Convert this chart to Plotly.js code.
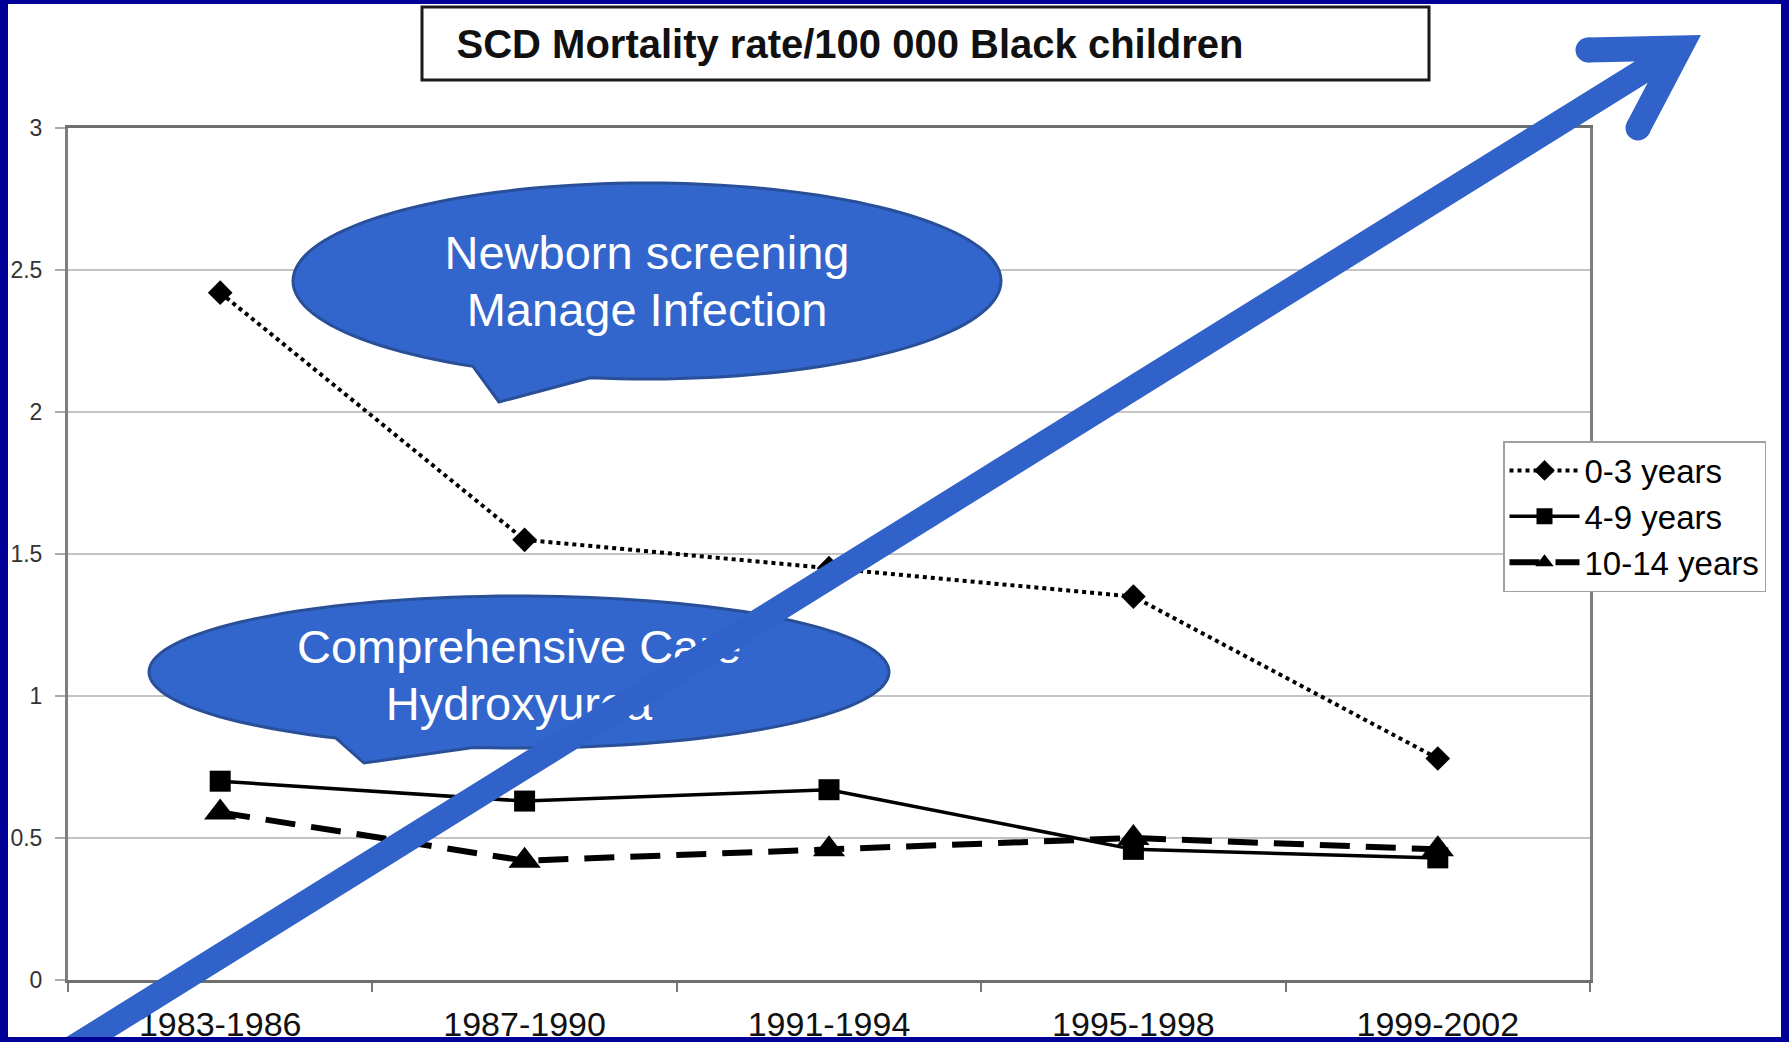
<!DOCTYPE html>
<html>
<head>
<meta charset="utf-8">
<script src="https://cdn.plot.ly/plotly-3.0.1.min.js"></script>
<style>
  html, body { margin: 0; padding: 0; background: #ffffff; overflow: hidden; }
  #chart { width: 1789px; height: 1042px; }
</style>
</head>
<body>
<div id="chart"></div>
<script>
// ---- Data ----
const periods    = ['1983-1986', '1987-1990', '1991-1994', '1995-1998', '1999-2002'];
const age0to3    = [2.42, 1.55, 1.45, 1.35, 0.78];
const age4to9    = [0.70, 0.63, 0.67, 0.46, 0.43];
const age10to14  = [0.59, 0.42, 0.46, 0.50, 0.46];
const seriesNames = ['0-3 years', '4-9 years', '10-14 years'];
const yTickVals  = [0, 0.5, 1, 1.5, 2, 2.5, 3];
const yTickText  = ['0', '0.5', '1', '1.5', '2', '2.5', '3'];
const chartTitle = 'SCD Mortality rate/100 000 Black children';
const bubble1Lines = ['Newborn screening', 'Manage Infection'];
const bubble2Lines = ['Comprehensive Care', 'Hydroxyurea'];

// ---- Layout geometry (pixels) ----
const W = 1789, H = 1042;
const L = 68, R = 1590, T = 128, B = 980;
const px = x => (x - L) / (R - L);
const py = y => (B - y) / (B - T);

const FONT = 'Liberation Sans, Arial, Helvetica, sans-serif';
const NAVY = '#000099';
const BUBBLE_FILL = '#3366cc';
const BUBBLE_LINE = '#284f98';
const ARROW = '#3162c9';

function pathFrom(points, close) {
  return points.map((p, i) => (i ? 'L' : 'M') + px(p[0]).toFixed(5) + ',' + py(p[1]).toFixed(5)).join(' ') + (close ? ' Z' : '');
}

// callout ellipse with a tail on its lower edge
function calloutPath(cx, cy, rx, ry, baseLx, tip, baseRx) {
  const tL = Math.acos((baseLx - cx) / rx);
  const tR = Math.acos((baseRx - cx) / rx) + 2 * Math.PI;
  const pts = [];
  const n = 140;
  for (let i = 0; i <= n; i++) {
    const t = tL + (tR - tL) * i / n;
    pts.push([cx + rx * Math.cos(t), cy + ry * Math.sin(t)]);
  }
  pts.push(tip);
  return pathFrom(pts, true);
}

function textRect(cx, cy, text, size) {
  return {
    type: 'rect', xref: 'paper', yref: 'paper', layer: 'above',
    x0: px(cx - 300), x1: px(cx + 300), y0: py(cy + 30), y1: py(cy - 30),
    line: { width: 0 }, fillcolor: 'rgba(0,0,0,0)',
    label: { text: text, textposition: 'middle center', font: { family: FONT, size: size, color: '#ffffff' } }
  };
}

function navyRect(x0, y0, x1, y1) {
  return {
    type: 'rect', xref: 'paper', yref: 'paper', layer: 'above',
    x0: px(x0), x1: px(x1), y0: py(y1), y1: py(y0),
    line: { width: 0 }, fillcolor: NAVY
  };
}

// arrow geometry
const arrowTail = [58, 1057];
const arrowJoin = [1680, 48];
const barbUpper = [1588, 50];
const barbLower = [1638, 128];
const ARROW_W = 25;

function capCircle(c) {
  const r = ARROW_W / 2;
  return {
    type: 'circle', xref: 'paper', yref: 'paper', layer: 'above',
    x0: px(c[0] - r), x1: px(c[0] + r), y0: py(c[1] + r), y1: py(c[1] - r),
    line: { width: 0 }, fillcolor: ARROW
  };
}

const shapes = [
  // title box
  { type: 'rect', xref: 'paper', yref: 'paper', layer: 'above',
    x0: px(422), x1: px(1429), y0: py(80), y1: py(7),
    line: { color: '#1a1a1a', width: 3 }, fillcolor: '#ffffff' },
  // bubble 1
  { type: 'path', xref: 'paper', yref: 'paper', layer: 'above',
    path: calloutPath(647, 281, 354, 98, 473, [499, 402], 590),
    line: { color: BUBBLE_LINE, width: 3 }, fillcolor: BUBBLE_FILL },
  textRect(647, 248, bubble1Lines[0], 47),
  textRect(647, 305, bubble1Lines[1], 47),
  // bubble 2
  { type: 'path', xref: 'paper', yref: 'paper', layer: 'above',
    path: calloutPath(519, 672, 370, 76, 336, [364, 763], 473),
    line: { color: BUBBLE_LINE, width: 3 }, fillcolor: BUBBLE_FILL },
  textRect(519, 642, bubble2Lines[0], 47),
  textRect(519, 699, bubble2Lines[1], 47),
  // big arrow
  { type: 'path', xref: 'paper', yref: 'paper', layer: 'above',
    path: pathFrom([arrowTail, arrowJoin]) + ' ' + pathFrom([barbUpper, arrowJoin, barbLower]),
    line: { color: ARROW, width: ARROW_W }, fillcolor: 'rgba(0,0,0,0)' },
  capCircle(barbUpper),
  capCircle(barbLower),
  // navy frame
  navyRect(0, 0, 8, H),
  navyRect(1781, 0, W, H),
  navyRect(0, 0, W, 4),
  navyRect(0, 1037, W, H)
];

const traces = [
  { x: periods, y: age0to3, name: seriesNames[0], type: 'scatter', mode: 'lines+markers',
    line: { color: '#000000', width: 4, dash: 'dot' },
    marker: { symbol: 'diamond', size: 19, color: '#000000' } },
  { x: periods, y: age4to9, name: seriesNames[1], type: 'scatter', mode: 'lines+markers',
    line: { color: '#000000', width: 3.5, dash: 'solid' },
    marker: { symbol: 'square', size: 21, color: '#000000' } },
  { x: periods, y: age10to14, name: seriesNames[2], type: 'scatter', mode: 'lines+markers',
    line: { color: '#000000', width: 6, dash: '30px,16px' },
    marker: { symbol: 'triangle-up', size: 28, color: '#000000' } }
];

const layout = {
  width: W, height: H,
  margin: { l: L, r: W - R, t: T, b: H - B, autoexpand: false },
  paper_bgcolor: '#ffffff', plot_bgcolor: '#ffffff',
  showlegend: true,
  title: {
    text: '<b>' + chartTitle + '</b>',
    xref: 'container', yref: 'container',
    x: 850 / W, y: 1 - 44 / H, xanchor: 'center', yanchor: 'middle',
    font: { family: FONT, size: 40, color: '#111111' }
  },
  xaxis: {
    type: 'category', range: [-0.5, 4.5],
    tickson: 'boundaries', ticks: 'outside', ticklen: 9, tickwidth: 2, tickcolor: '#777777',
    showline: true, linecolor: '#6e6e6e', linewidth: 3, mirror: true,
    showgrid: false, zeroline: false,
    tickfont: { family: FONT, size: 34, color: '#111111' },
    ticklabelstandoff: 12
  },
  yaxis: {
    range: [0, 3], tickmode: 'array', tickvals: yTickVals, ticktext: yTickText,
    ticks: 'outside', ticklen: 10, tickwidth: 2, tickcolor: '#aaaaaa',
    showgrid: true, gridcolor: '#c4c4c4', gridwidth: 2,
    showline: true, linecolor: '#7f7f7f', linewidth: 3, mirror: true,
    zeroline: false,
    tickfont: { family: FONT, size: 23, color: '#333333' },
    ticklabelstandoff: 8
  },
  legend: {
    x: px(1503), y: py(441), xanchor: 'left', yanchor: 'top',
    bgcolor: '#ffffff', bordercolor: '#a0a0a0', borderwidth: 1.5,
    font: { family: FONT, size: 33, color: '#000000' },
    itemwidth: 70, tracegroupgap: 0
  },
  shapes: shapes
};

Plotly.newPlot('chart', traces, layout, { displayModeBar: false, staticPlot: true });
</script>
</body>
</html>
